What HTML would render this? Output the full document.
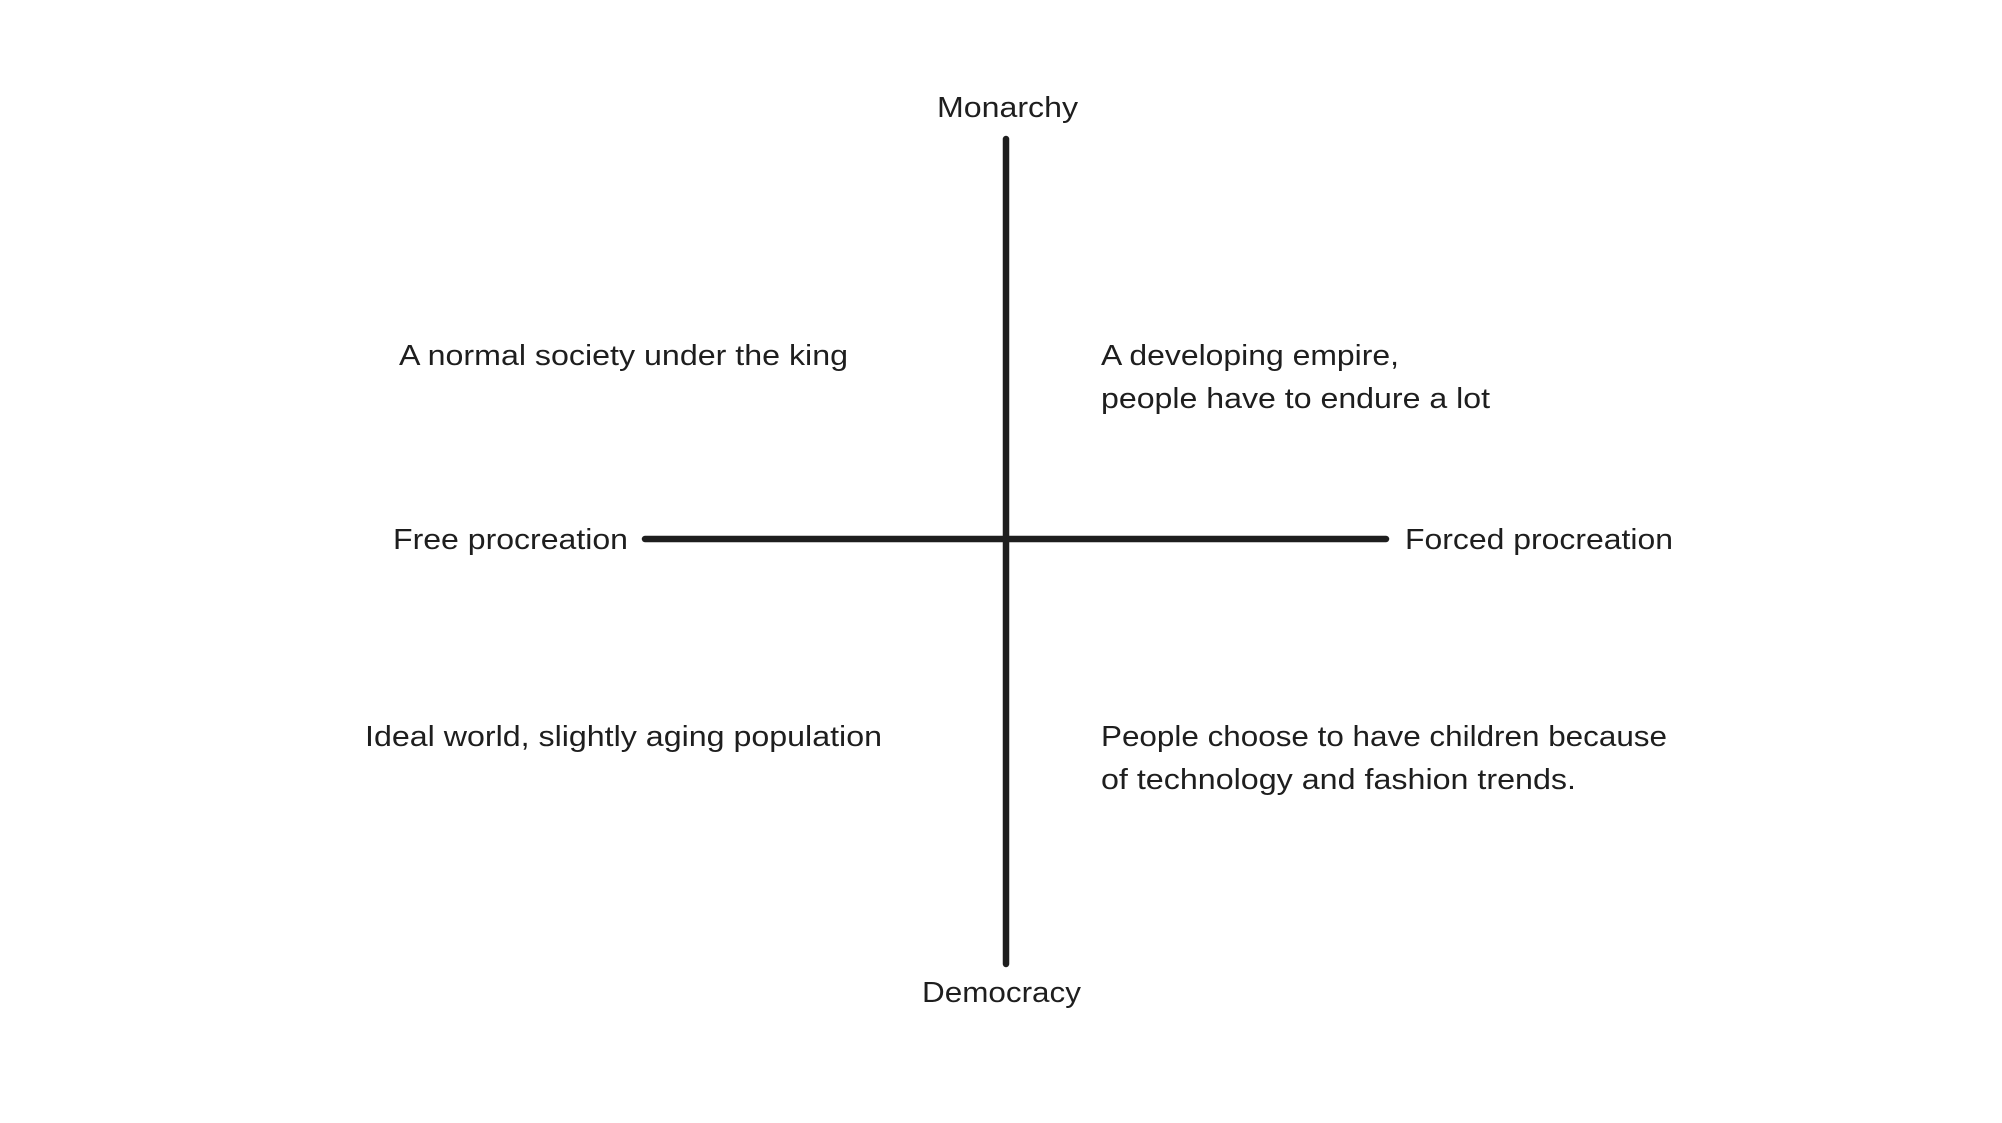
<!DOCTYPE html>
<html><head><meta charset="utf-8"><style>html,body{margin:0;padding:0;background:#fff}svg{display:block}</style></head>
<body>
<svg width="2002" height="1123" viewBox="0 0 2002 1123" xmlns="http://www.w3.org/2000/svg">
<rect width="2002" height="1123" fill="#fff"/>
<g transform="translate(-5,-3)">
<g stroke="#1e1e1e" stroke-width="6.5" stroke-linecap="round">
<line x1="1011" y1="142" x2="1011" y2="967"/>
<line x1="650" y1="542" x2="1391" y2="542"/>
</g>
<g font-family="Liberation Sans, sans-serif" font-size="29" fill="#1e1e1e">
<text x="942" y="120" textLength="141" lengthAdjust="spacingAndGlyphs">Monarchy</text>
<text x="404" y="368" textLength="449" lengthAdjust="spacingAndGlyphs">A normal society under the king</text>
<text x="1106" y="368" textLength="298" lengthAdjust="spacingAndGlyphs">A developing empire,</text>
<text x="1106" y="411" textLength="389" lengthAdjust="spacingAndGlyphs">people have to endure a lot</text>
<text x="398" y="552" textLength="235" lengthAdjust="spacingAndGlyphs">Free procreation</text>
<text x="1410" y="552" textLength="268" lengthAdjust="spacingAndGlyphs">Forced procreation</text>
<text x="370" y="749" textLength="517" lengthAdjust="spacingAndGlyphs">Ideal world, slightly aging population</text>
<text x="1106" y="749" textLength="566" lengthAdjust="spacingAndGlyphs">People choose to have children because</text>
<text x="1106" y="792" textLength="475" lengthAdjust="spacingAndGlyphs">of technology and fashion trends.</text>
<text x="927" y="1005" textLength="159" lengthAdjust="spacingAndGlyphs">Democracy</text>
</g>
</g>
</svg>
</body></html>
